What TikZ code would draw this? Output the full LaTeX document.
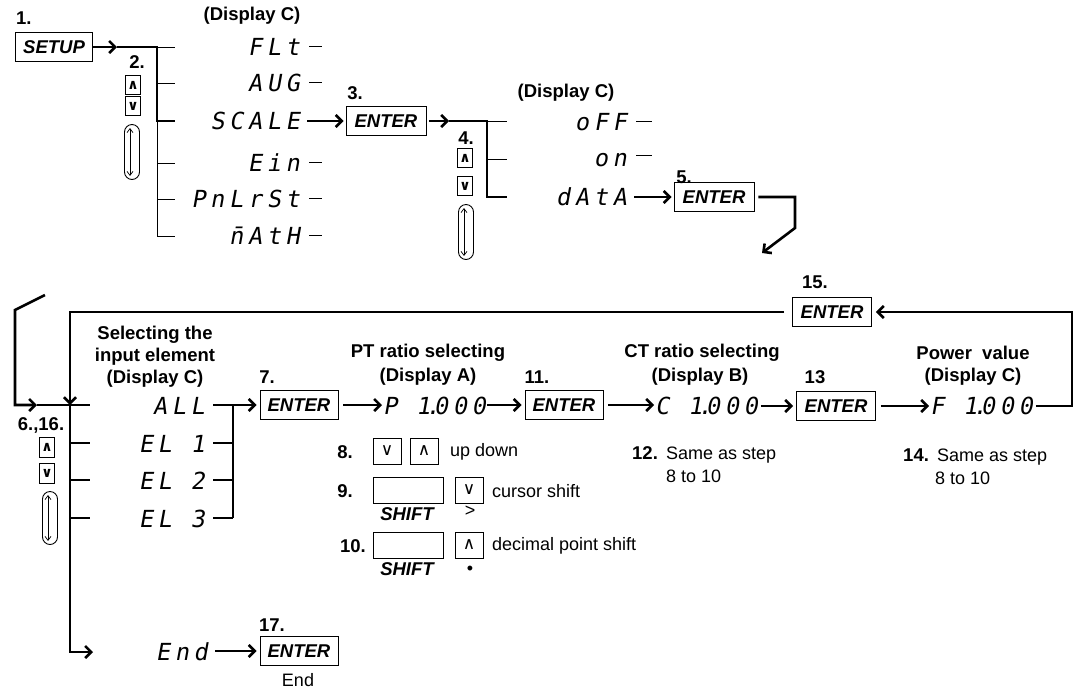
\documentclass[tikz,border=0pt]{standalone}
\usepackage{fontspec}
\setmainfont{Liberation Sans}
\newfontfamily\segfont[LetterSpace=20,FakeSlant=0.18]{DejaVu Sans Mono}
\newfontfamily\symfont{DejaVu Sans}
\usetikzlibrary{arrows.meta}
\newcommand\sdot{\kern-0.2em.\kern-0.25em}
\begin{document}
\begin{tikzpicture}[x=1pt,y=-1pt,line join=miter,
  lbl/.style={font=\fontsize{18.5}{22}\selectfont\bfseries,inner sep=0},
  txt/.style={font=\fontsize{18}{22}\selectfont,inner sep=0},
  key/.style={draw,line width=0.9pt,minimum width=80pt,minimum height=29pt,inner sep=0,font=\fontsize{18.5}{22}\selectfont\bfseries\itshape},
  blank/.style={draw,line width=0.9pt,minimum width=70pt,minimum height=26pt,inner sep=0},
  sbox/.style={draw,line width=0.9pt,minimum width=15pt,minimum height=19pt,inner sep=0,font=\symfont\bfseries\fontsize{14}{14}\selectfont},
  bbox/.style={draw,line width=0.9pt,minimum width=28pt,minimum height=26pt,inner sep=0,font=\symfont\fontsize{17}{17}\selectfont},
  oval/.style={draw,line width=0.9pt,rounded corners=7.5pt,minimum width=15pt,minimum height=55pt,inner sep=0},
  seg/.style={font=\segfont\fontsize{23.5}{23.5}\selectfont,inner sep=0,anchor=base east},
  segw/.style={font=\segfont\fontsize{23.5}{23.5}\selectfont,inner sep=0,anchor=base west},
  thk/.style={line width=2.6pt},
  thn/.style={line width=0.9pt},
  arr/.style={-{Straight Barb[length=6pt,width=12pt]}},
  darr/.style={line width=0.7pt,{Straight Barb[length=4pt,width=6pt]}-{Straight Barb[length=4pt,width=6pt]}}
]
\useasboundingbox (0,0) rectangle (1075,689);

% ---------------- step 1 / 2 ----------------
\node[lbl,anchor=west] (s1) at (16,18) {1.};
\node[key,minimum width=77pt] (setup) at (54,47) {SETUP};
\coordinate (a1) at (117,47);
\foreach \n/\y in {1/47,2/83,3/121,4/163,5/199,6/236}{
  \coordinate (ta\n) at (157,\y);
  \coordinate (tb\n) at (175,\y);
}
\draw[thk,arr] (setup.east) -- (a1);
\draw[thn] (ta1) -- (ta6);
\foreach \n in {1,2,4,5,6}{\draw[thn] (ta\n) -- (tb\n);}
\draw[thk] (a1) -- (ta1) -- (ta3) -- (tb3);

\node[lbl] (s2) at (137,62) {2.};
\node[sbox] (up2) at (133,85) {∧};
\node[sbox] (dn2) at (133,106) {∨};
\node[oval] (ov2) at (132,152) {};
\draw[darr] ([shift={(-2,4)}]ov2.north) -- ([shift={(-2,-4)}]ov2.south);

\node[lbl] (dc1) at (252,16) {(Display C)};
\node[seg] (flt) at (300,55) {FLt};
\node[seg] (aug) at (300,91) {AUG};
\node[seg] (scale) at (300,129) {SCALE};
\node[seg] (ein) at (300,171) {Ein};
\node[seg] (pnl) at (300,207) {PnLrSt};
\node[seg] (math) at (300,244) {\={n}AtH};
\foreach \d in {flt,aug,ein,pnl,math}{\draw[thn] ([xshift=9pt]\d.east) -- ++(13,0);}

% ---------------- step 3 / 4 ----------------
\node[lbl] (s3) at (355,93) {3.};
\node[key] (enter3) at (386,121) {ENTER};
\draw[thk,arr,shorten <=7pt,shorten >=2pt] (scale.east |- ta3) -- (enter3.west);

\coordinate (a3) at (449,121);
\foreach \n/\y in {1/121,2/159,3/197}{
  \coordinate (ua\n) at (487,\y);
  \coordinate (ub\n) at (507,\y);
}
\draw[thk,arr,shorten <=3pt] (enter3.east) -- (a3);
\draw[thk] (a3) -- (ua1) -- (ua3) -- (ub3);
\draw[thn] (ua1) -- (ub1);
\draw[thn] (ua2) -- (ub2);

\node[lbl] (s4) at (466,138) {4.};
\node[sbox] (up4) at (465,158) {∧};
\node[sbox] (dn4) at (465,186) {∨};
\node[oval] (ov4) at (466,232) {};
\draw[darr] ([shift={(-2,4)}]ov4.north) -- ([shift={(-2,-4)}]ov4.south);

\node[lbl] (dc2) at (566,93) {(Display C)};
\node[seg] (off) at (627,130) {oFF};
\node[seg] (on) at (627,166) {on};
\node[seg] (data) at (627,205) {dAtA};
\draw[thn] ([xshift=9pt]off.east) -- ++(16,0);
\draw[thn] ([shift={(9,-4)}]on.east) -- ++(16,0);

% ---------------- step 5 ----------------
\node[lbl] (s5) at (684,177) {5.};
\node[key] (enter5) at (714,197) {ENTER};
\draw[thk,arr,shorten <=7pt,shorten >=2pt] (data.east |- ua3) -- (enter5.west);
\coordinate (b1) at (795,197);
\coordinate (b2) at (795,228);
\coordinate (b3) at (762,253);
\draw[thk,arr,shorten <=4pt] (enter5.east) -- (b1) -- (b2) -- (b3);

% ---------------- lower part: trunk ----------------
\coordinate (sl1) at (45,295);
\coordinate (sl2) at (15,310);
\coordinate (sl3) at (15,405);
\coordinate (a6) at (37,405);
\foreach \n/\y in {1/405,2/443,3/480,4/518}{
  \coordinate (va\n) at (70,\y);
  \coordinate (vb\n) at (90,\y);
}
\coordinate (vtop) at (70,312);
\coordinate (vend) at (70,652);
\coordinate (a16) at (93,652);
\draw[thk,arr] (sl1) -- (sl2) -- (sl3) -- (a6);
\draw[thk] (a6) -- (vb1);
\foreach \n in {2,3,4}{\draw[thk] (va\n) -- (vb\n);}
\draw[thk,arr] (va1) -- (vend) -- (a16);

\node[lbl] (s6) at (41,425) {6.,16.};
\node[sbox,minimum height=20pt] (up6) at (47,447) {∧};
\node[sbox,minimum height=20pt] (dn6) at (47,473) {∨};
\node[oval,minimum height=53pt] (ov6) at (50,518) {};
\draw[darr] ([shift={(-2,4)}]ov6.north) -- ([shift={(-2,-4)}]ov6.south);

\node[lbl,align=center] (sel) at (155,357) {Selecting the\\input element\\(Display C)};
\node[seg] (all) at (205,414) {ALL};
\node[seg] (el1) at (205,452) {EL 1};
\node[seg] (el2) at (205,489) {EL 2};
\node[seg] (el3) at (205,527) {EL 3};
\foreach \n/\y in {1/405,2/443,3/480,4/518}{\coordinate (wa\n) at (233,\y);}
\draw[thk] (wa1) -- (wa4);
\draw[thk,shorten <=8pt] (el1.east |- wa2) -- (wa2);
\draw[thk,shorten <=8pt] (el2.east |- wa3) -- (wa3);
\draw[thk,shorten <=8pt] (el3.east |- wa4) -- (wa4);

\node[lbl] (s7) at (267,377) {7.};
\node[key,minimum width=78pt] (enter7) at (299,405) {ENTER};
\draw[thk,arr,shorten <=8pt,shorten >=3pt] (all.east |- wa1) -- (enter7.west);

% PT ratio
\node[lbl] (pt1) at (428,353) {PT ratio selecting};
\node[lbl] (pt2) at (428,377) {(Display A)};
\node[segw] (pdisp) at (383,414) {P 1\sdot000};
\draw[thk,arr,shorten <=5pt,shorten >=1pt] (enter7.east) -- (pdisp.west |- enter7);

\node[lbl] (s11) at (537,377) {11.};
\node[key,minimum width=78pt] (enter11) at (564,405) {ENTER};
\draw[thk,arr,shorten <=1pt,shorten >=3pt] (pdisp.east |- enter11) -- (enter11.west);

% CT ratio
\node[lbl] (ct1) at (702,353) {CT ratio selecting};
\node[lbl] (ct2) at (700,377) {(Display B)};
\node[segw] (cdisp) at (655,414) {C 1\sdot000};
\draw[thk,arr,shorten <=5pt,shorten >=1pt] (enter11.east) -- (cdisp.west |- enter11);

\node[lbl] (s13) at (815,377) {13};
\node[key,minimum width=79pt] (enter13) at (836,406) {ENTER};
\draw[thk,arr,shorten <=3pt,shorten >=3pt] (cdisp.east |- enter13) -- (enter13.west);

% Power value
\node[lbl] (pw1) at (973,353) {Power~ value};
\node[lbl] (pw2) at (973,377) {(Display C)};
\node[segw] (fdisp) at (930,414) {F 1\sdot000};
\draw[thk,arr,shorten <=5pt,shorten >=1pt] (enter13.east) -- (fdisp.west |- enter13);

% step 15 loop
\node[lbl] (s15) at (815,282) {15.};
\node[key,minimum width=79pt] (enter15) at (832,312) {ENTER};
\coordinate (r1) at (1072,406);
\coordinate (r2) at (1072,312);
\draw[thk,arr,shorten <=3pt,shorten >=4pt] (fdisp.east |- r1) -- (r1) -- (r2) -- (enter15.east);
\draw[thk,arr,shorten <=8pt] (enter15.west) -- (vtop) -- (va1);

% steps 8-10
\node[lbl] (s8) at (345,452) {8.};
\node[bbox] (dn8) at (387,451) {∨};
\node[bbox] (up8) at (424,451) {∧};
\node[txt,anchor=west] (t8) at (450,452) {up down};

\node[lbl] (s9) at (345,491) {9.};
\node[blank] (sh9) at (408,490) {};
\node[lbl,font=\fontsize{18.5}{22}\selectfont\bfseries\itshape] (shl9) at (407,514) {SHIFT};
\node[bbox] (dn9) at (469,490) {∨};
\node[txt] (gt9) at (470,511) {>};
\node[txt,anchor=west] (t9) at (492,491) {cursor shift};

\node[lbl] (s10) at (353,546) {10.};
\node[blank] (sh10) at (408,545) {};
\node[lbl,font=\fontsize{18.5}{22}\selectfont\bfseries\itshape] (shl10) at (407,569) {SHIFT};
\node[bbox] (up10) at (469,545) {∧};
\node[txt] (dot10) at (470,570) {•};
\node[txt,anchor=west] (t10) at (492,546) {decimal point shift};

% steps 12 and 14
\node[lbl,anchor=base west] (s12) at (632,459) {12.};
\node[txt,anchor=base west] (t12a) at (666,459) {Same as step};
\node[txt,anchor=base west] (t12b) at (666,482) {8 to 10};
\node[lbl,anchor=base west] (s14) at (903,461) {14.};
\node[txt,anchor=base west] (t14a) at (937,461) {Same as step};
\node[txt,anchor=base west] (t14b) at (935,484) {8 to 10};

% step 17
\node[seg] (end) at (208,660) {End};
\node[lbl] (s17) at (272,625) {17.};
\node[key,minimum width=78pt] (enter17) at (299,651) {ENTER};
\draw[thk,arr,shorten <=7pt,shorten >=3pt] (end.east |- enter17) -- (enter17.west);
\node[txt] (endl) at (298,680) {End};
\end{tikzpicture}
\end{document}
